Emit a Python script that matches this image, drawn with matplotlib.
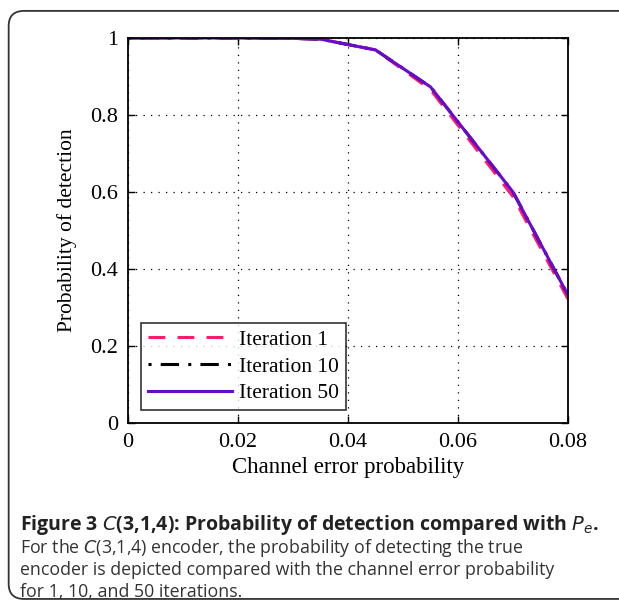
import numpy as np
import matplotlib.pyplot as plt
from matplotlib.patches import FancyBboxPatch

# dane
pe = [0.0, 0.01, 0.02, 0.03, 0.035, 0.045, 0.055, 0.07, 0.08]
iter1 = [1.0, 1.0, 1.0, 0.999, 0.997, 0.969, 0.866, 0.588, 0.322]
iter10 = [1.0, 1.0, 1.0, 0.999, 0.997, 0.969, 0.873, 0.600, 0.332]
iter50 = [1.0, 1.0, 1.0, 0.999, 0.997, 0.969, 0.873, 0.600, 0.332]

xticks = [0, 0.02, 0.04, 0.06, 0.08]
yticks = [0, 0.2, 0.4, 0.6, 0.8, 1]

serif = ['Liberation Serif', 'DejaVu Serif']
sans = ['Open Sans', 'DejaVu Sans']

fig = plt.figure(figsize=(6.19, 6.05), dpi=100)

# ramka wokol calej figury
ramka = FancyBboxPatch((0.014, 0.01), 1.1, 0.972, boxstyle='round,pad=0,rounding_size=0.025',
                       transform=fig.transFigure, facecolor='none', edgecolor='#333333', lw=1.3,
                       clip_on=False, zorder=-1)
fig.patches.append(ramka)

ax = fig.add_axes([128 / 619, 1 - 423 / 605, 440 / 619, 385 / 605])
ax.plot(pe, iter1, color='#ff1a6e', lw=2.2, ls=(0, (5.5, 4)), label='Iteration 1')
ax.plot(pe, iter10, color='black', lw=2.2, ls=(0, (1, 3, 6, 3)), label='Iteration 10')
ax.plot(pe, iter50, color='#6a0ad0', lw=2.2, label='Iteration 50')

ax.set_xlim(0, 0.08)
ax.set_ylim(0, 1)
ax.set_xticks(xticks)
ax.set_xticklabels(['0', '0.02', '0.04', '0.06', '0.08'])
ax.set_yticks(yticks)
ax.set_yticklabels(['0', '0.2', '0.4', '0.6', '0.8', '1'])
ax.tick_params(direction='in', top=True, right=True, length=5, width=1, labelsize=16, pad=7)
for lab in ax.get_xticklabels() + ax.get_yticklabels():
    lab.set_family(serif)
for s in ax.spines.values():
    s.set_linewidth(1.3)
ax.grid(True, color='black', ls=(0, (1, 5)), lw=0.9)

ax.set_xlabel('Channel error probability', family=serif, fontsize=16.5, labelpad=4)
ax.set_ylabel('Probability of detection', family=serif, fontsize=15.5, labelpad=10)

leg = ax.legend(loc='lower left', bbox_to_anchor=(0.03, 0.035), prop={'family': serif, 'size': 15.5},
                frameon=True, fancybox=False, edgecolor='black', handlelength=3.9,
                borderpad=0.3, labelspacing=0.3, handletextpad=0.35, borderaxespad=0)
leg.get_frame().set_linewidth(1.2)

# podpis
fig.text(20 / 619, 1 - 525 / 605,
         r'Figure 3 $\mathit{C}$(3,1,4): Probability of detection compared with $\mathbf{\mathit{P_e}}$.',
         family=sans, fontsize=14, weight='bold', va='center', color='#222222')
opis = ['For the $\\mathit{C}$(3,1,4) encoder, the probability of detecting the true',
        'encoder is depicted compared with the channel error probability',
        'for 1, 10, and 50 iterations.']
for i, t in enumerate(opis):
    fig.text(20 / 619, 1 - (548 + 22 * i) / 605, t, family=sans, fontsize=12.8,
             va='center', color='#333333')

fig.savefig('out.png', dpi=100)
